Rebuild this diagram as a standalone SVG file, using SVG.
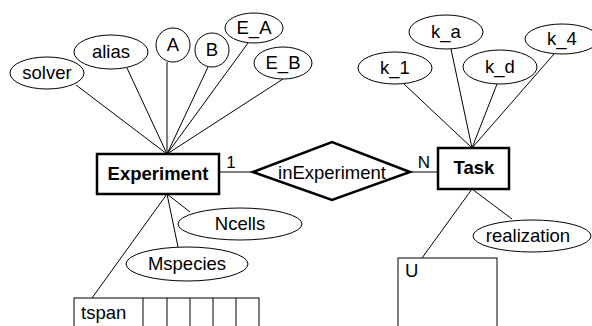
<svg xmlns="http://www.w3.org/2000/svg" width="592" height="326" viewBox="0 0 592 326">
<style>
text{font-family:"Liberation Sans",Arial,sans-serif;font-size:18.5px;fill:#000}
.c{text-anchor:middle}
.b{font-weight:bold;font-size:18.5px}
.attr{fill:#fff;stroke:#000;stroke-width:1}
.ent{fill:#fff;stroke:#000;stroke-width:2.5}
.ln{stroke:#000;stroke-width:1;fill:none}
.tbl{fill:#fff;stroke:#000;stroke-width:1}
</style>
<rect width="592" height="326" fill="#fff"/>
<g id="connectors">
<line class="ln" x1="167" y1="154" x2="76" y2="85"/>
<line class="ln" x1="167" y1="154" x2="127" y2="68"/>
<line class="ln" x1="167" y1="154" x2="167" y2="62"/>
<line class="ln" x1="167" y1="154" x2="208" y2="67"/>
<line class="ln" x1="167" y1="154" x2="248" y2="43"/>
<line class="ln" x1="167" y1="154" x2="283" y2="79"/>
<line class="ln" x1="167" y1="194" x2="190" y2="212"/>
<line class="ln" x1="167" y1="194" x2="178" y2="247"/>
<line class="ln" x1="167" y1="194" x2="92" y2="298"/>
<line class="ln" x1="219" y1="172" x2="253" y2="172"/>
<line class="ln" x1="410" y1="172" x2="438" y2="172"/>
<line class="ln" x1="472" y1="148" x2="404" y2="84"/>
<line class="ln" x1="472" y1="148" x2="451" y2="49"/>
<line class="ln" x1="472" y1="148" x2="497" y2="84"/>
<line class="ln" x1="472" y1="148" x2="554" y2="54"/>
<line class="ln" x1="472" y1="189" x2="512" y2="219"/>
<line class="ln" x1="472" y1="189" x2="422" y2="258"/>
<text x="231" y="168" class="c" style="font-size:17px">1</text>
<text x="424" y="168" class="c" style="font-size:17px">N</text>
</g>
<g id="experiment">
<rect class="ent" x="97" y="154" width="122" height="40"/>
<text x="158" y="180" class="c b">Experiment</text>
</g>
<g id="inExperiment">
<polygon class="ent" points="253,172 332,142 410,172 332,200"/>
<text x="332" y="179" class="c">inExperiment</text>
</g>
<g id="task">
<rect class="ent" x="438" y="148" width="71" height="41"/>
<text x="474" y="174" class="c b">Task</text>
</g>
<g id="solver"><ellipse class="attr" cx="47" cy="73" rx="37" ry="16"/><text x="47" y="79" class="c">solver</text></g>
<g id="alias"><ellipse class="attr" cx="111" cy="52" rx="37" ry="17"/><text x="111" y="58" class="c">alias</text></g>
<g id="A"><ellipse class="attr" cx="173" cy="45" rx="17" ry="17"/><text x="173" y="51" class="c">A</text></g>
<g id="B"><ellipse class="attr" cx="212" cy="50" rx="17" ry="17"/><text x="212" y="56" class="c">B</text></g>
<g id="E_A"><ellipse class="attr" cx="254" cy="28" rx="29" ry="15"/><text x="254" y="34" class="c">E_A</text></g>
<g id="E_B"><ellipse class="attr" cx="283" cy="63" rx="29" ry="16"/><text x="283" y="69" class="c">E_B</text></g>
<g id="Ncells"><ellipse class="attr" cx="240" cy="224" rx="62" ry="16"/><text x="240" y="230" class="c">Ncells</text></g>
<g id="Mspecies"><ellipse class="attr" cx="187" cy="264" rx="61" ry="17"/><text x="187" y="270" class="c">Mspecies</text></g>
<g id="tspan">
<rect class="tbl" x="74" y="298" width="185" height="40"/>
<line class="ln" x1="143" y1="298" x2="143" y2="326"/>
<line class="ln" x1="167" y1="298" x2="167" y2="326"/>
<line class="ln" x1="190" y1="298" x2="190" y2="326"/>
<line class="ln" x1="213" y1="298" x2="213" y2="326"/>
<line class="ln" x1="236" y1="298" x2="236" y2="326"/>
<text x="81" y="319">tspan</text>
</g>
<g id="k_1"><ellipse class="attr" cx="395" cy="68" rx="37" ry="16"/><text x="395" y="74" class="c">k_1</text></g>
<g id="k_a"><ellipse class="attr" cx="446" cy="32" rx="37" ry="17"/><text x="446" y="38" class="c">k_a</text></g>
<g id="k_d"><ellipse class="attr" cx="500" cy="67" rx="37" ry="17"/><text x="500" y="73" class="c">k_d</text></g>
<g id="k_4"><ellipse class="attr" cx="562" cy="39" rx="37" ry="15"/><text x="562" y="45" class="c">k_4</text></g>
<g id="realization"><ellipse class="attr" cx="532" cy="236" rx="59" ry="16"/><text x="528" y="242" class="c">realization</text></g>
<g id="U">
<rect class="tbl" x="398" y="258" width="99" height="80"/>
<text x="405" y="277">U</text>
</g>
</svg>
